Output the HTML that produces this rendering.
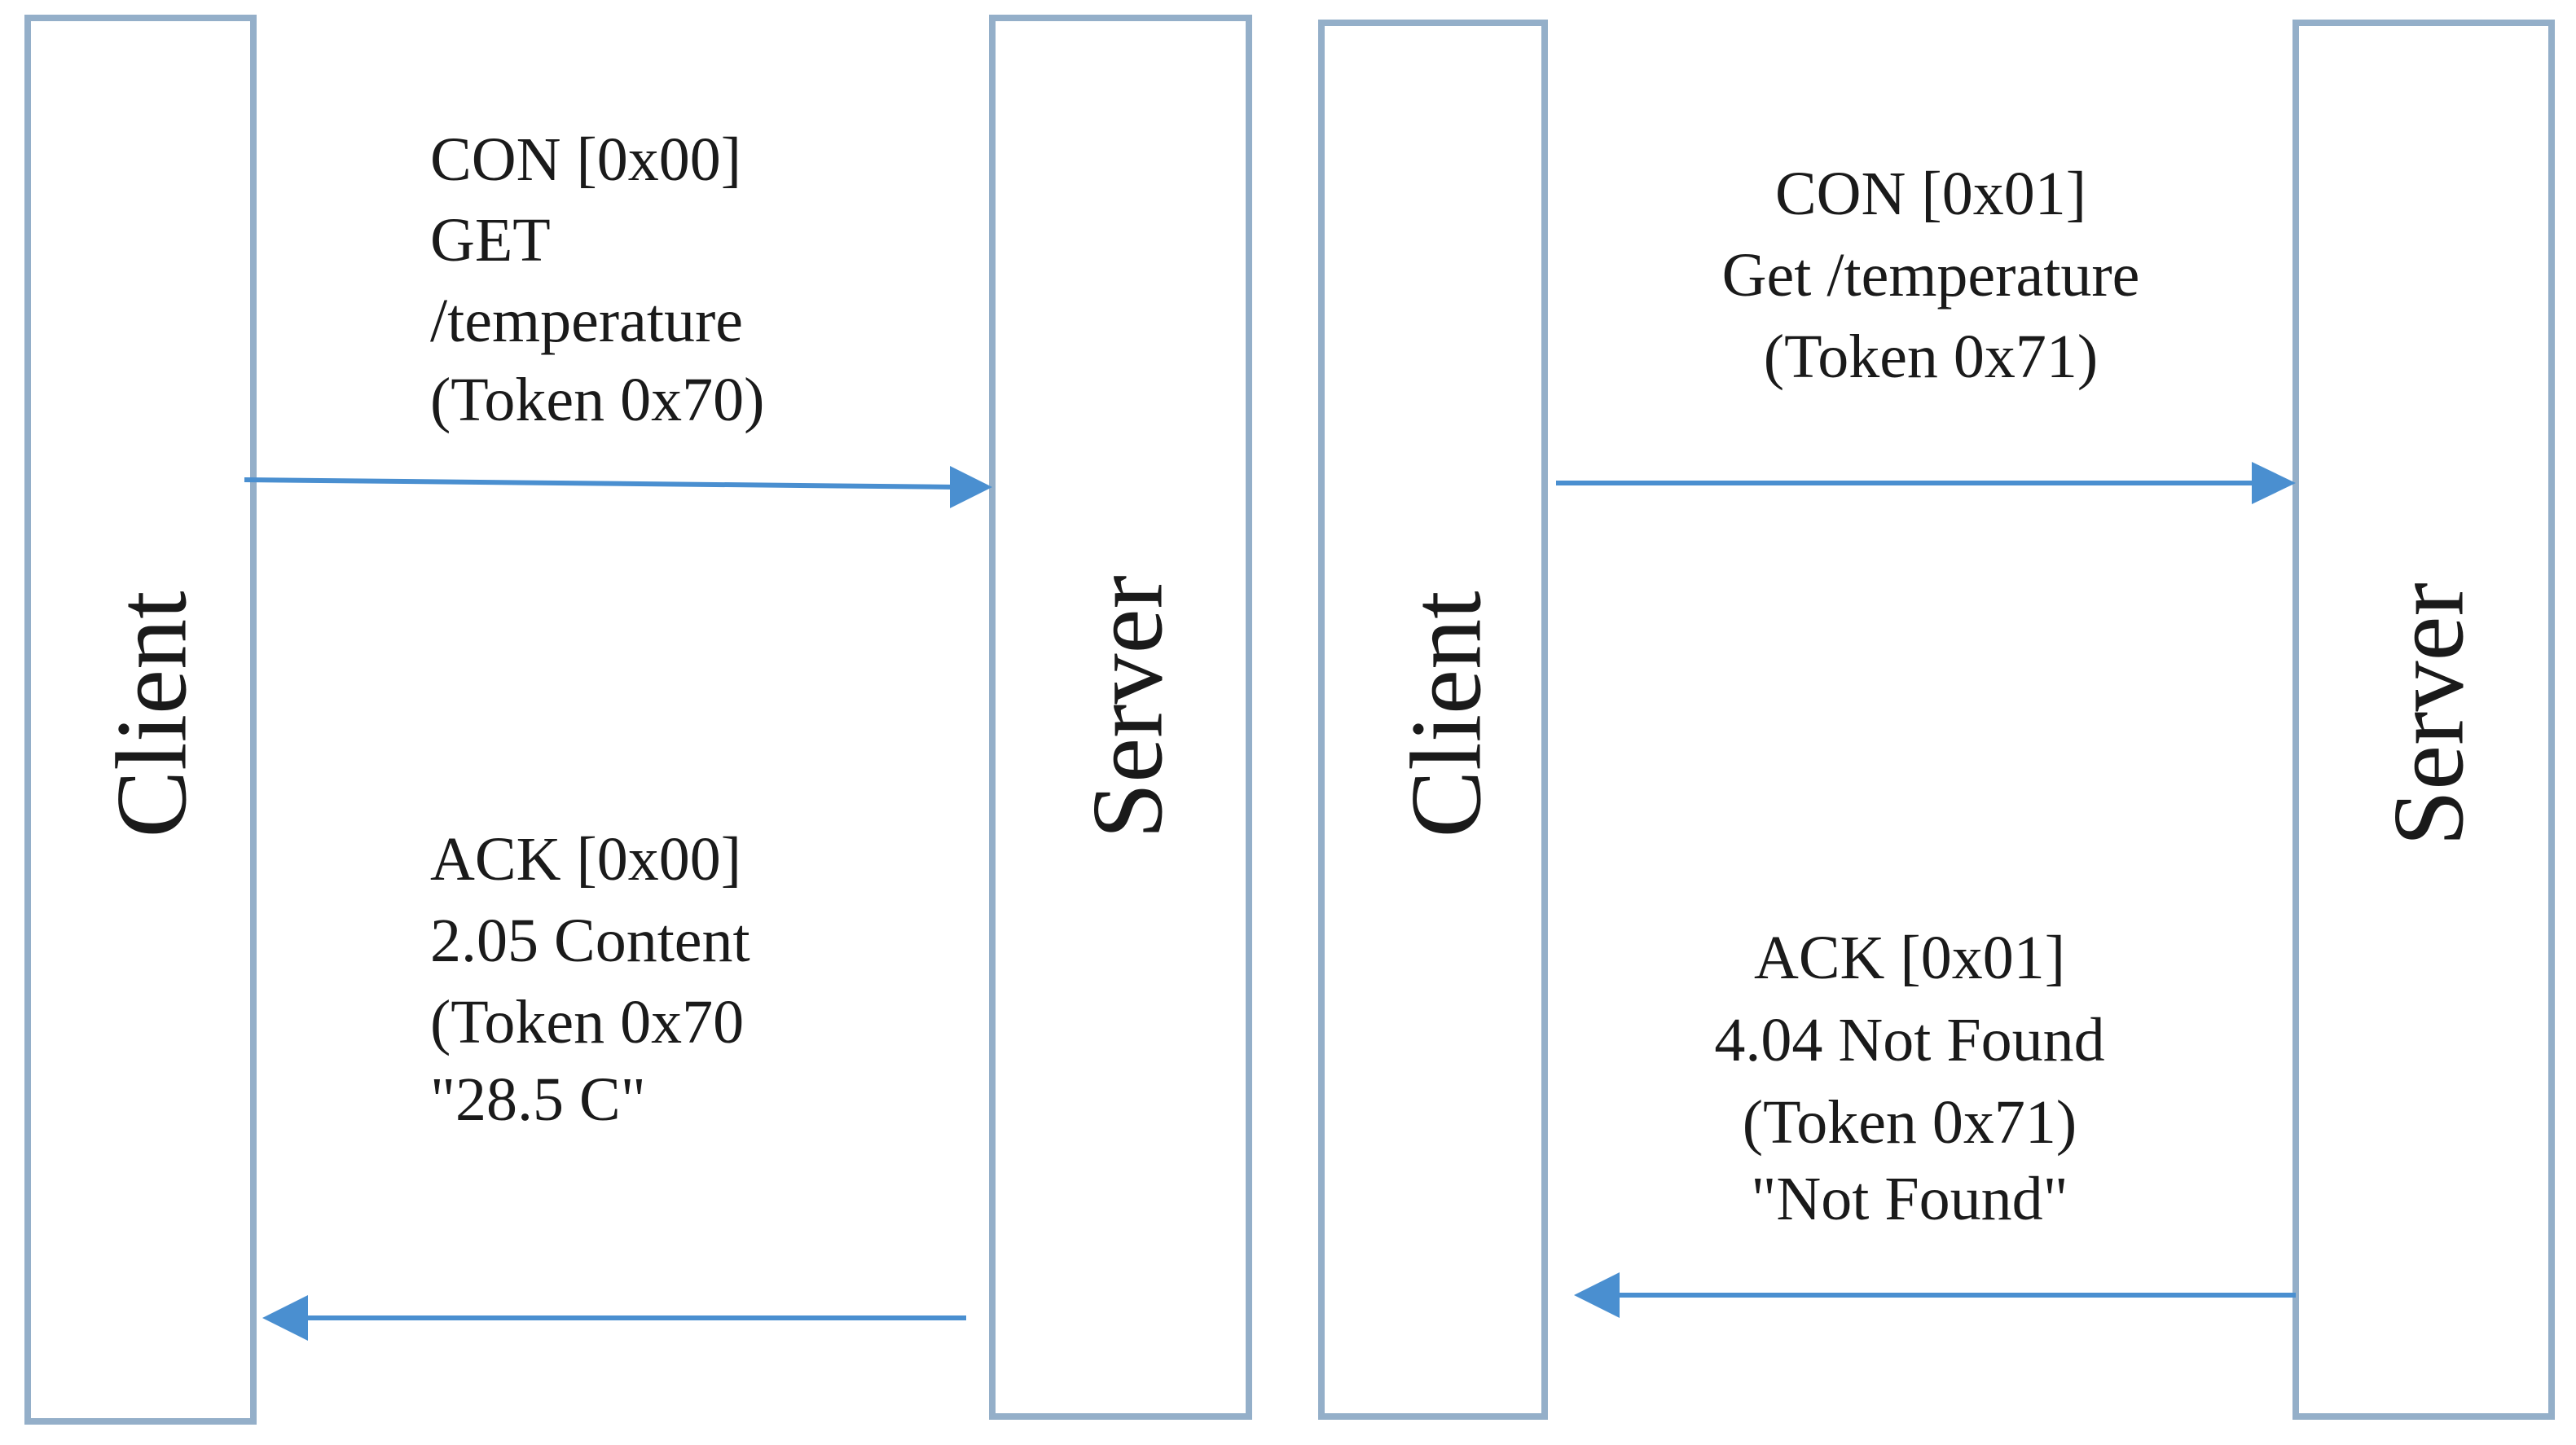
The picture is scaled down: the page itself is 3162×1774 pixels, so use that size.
<!DOCTYPE html>
<html><head><meta charset="utf-8"><style>
html,body{margin:0;padding:0;background:#fff;}
svg{display:block;}
text{font-family:"Liberation Serif",serif;fill:#1a1a1a;}
</style></head><body>
<svg width="3162" height="1774" viewBox="0 0 3162 1774" xmlns="http://www.w3.org/2000/svg">
<g fill="none" stroke="#94afc9" stroke-width="8">
<rect x="34" y="22" width="277" height="1723"/>
<rect x="1218" y="22" width="315" height="1717"/>
<rect x="1622" y="28" width="274" height="1711"/>
<rect x="2818" y="28" width="314" height="1711"/>
</g>
<g stroke="#4a8fd0" stroke-width="6">
<line x1="300" y1="589" x2="1175" y2="598"/>
<line x1="360" y1="1618" x2="1186" y2="1618"/>
<line x1="1910" y1="593" x2="2775" y2="593"/>
<line x1="1980" y1="1590" x2="2818" y2="1590"/>
</g>
<g fill="#4a8fd0">
<polygon points="1218,598 1166,572 1166,624"/>
<polygon points="322,1618 378,1590 378,1646"/>
<polygon points="2818,593 2764,567 2764,619"/>
<polygon points="1932,1590 1988,1562 1988,1618"/>
</g>
<g font-size="124" text-anchor="middle" dominant-baseline="central">
<text transform="translate(186,877) rotate(-90)">Client</text>
<text transform="translate(1384,868) rotate(-90)">Server</text>
<text transform="translate(1775,877) rotate(-90)">Client</text>
<text transform="translate(2981,877) rotate(-90)">Server</text>
</g>
<g font-size="76" dominant-baseline="central">
<text x="528" y="196">CON [0x00]</text>
<text x="528" y="295">GET</text>
<text x="528" y="394">/temperature</text>
<text x="528" y="491">(Token 0x70)</text>
<text x="528" y="1055">ACK [0x00]</text>
<text x="528" y="1155">2.05 Content</text>
<text x="528" y="1255">(Token 0x70</text>
<text x="528" y="1350">"28.5 C"</text>
</g>
<g font-size="76" dominant-baseline="central" text-anchor="middle">
<text x="2370" y="238">CON [0x01]</text>
<text x="2370" y="338">Get /temperature</text>
<text x="2370" y="438">(Token 0x71)</text>
<text x="2344" y="1176">ACK [0x01]</text>
<text x="2344" y="1277">4.04 Not Found</text>
<text x="2344" y="1378">(Token 0x71)</text>
<text x="2344" y="1472">"Not Found"</text>
</g>
</svg>
</body></html>
